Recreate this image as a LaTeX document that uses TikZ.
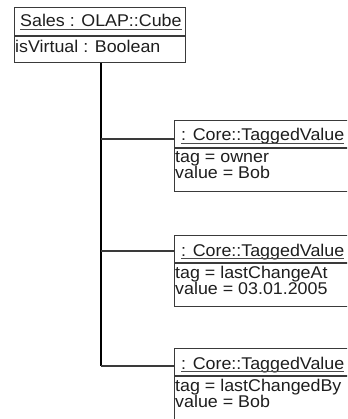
\documentclass[tikz,border=0pt]{standalone}
\usepackage{fontspec}
\setmainfont{Liberation Sans}
\definecolor{boxgray}{HTML}{3A3A3A}
\definecolor{txtc}{HTML}{1E1E1E}
\newcommand{\wide}[1]{\scalebox{1.05}[1]{#1}}
\begin{document}
\begin{tikzpicture}[x=1pt,y=-1pt,
  box/.style={draw=boxgray, line width=1.3pt, fill=white, inner sep=0pt, anchor=north west},
  sep/.style={draw=boxgray, line width=1.6pt},
  txt/.style={anchor=base west, inner sep=0pt, font=\fontsize{17}{17}\selectfont, text=txtc},
  uline/.style={draw=txtc!80, line width=1.1pt},
  trunk/.style={draw=black, line width=2.2pt},
  branch/.style={draw=boxgray, line width=1.3pt}]
\clip (0,0) rectangle (347,419);
\fill[white] (0,0) rectangle (347,419);
% Sales box
\node[box, minimum width=171pt, minimum height=55pt] (sales) at (14,7) {};
\draw[sep] (14,36) -- (185,36);
\node[txt] (salesh) at (20,27) {\wide{Sales : OLAP::Cube}};
\draw[uline] ([yshift=-2.5pt]salesh.base west) -- ([yshift=-2.5pt]salesh.base east);
\node[txt] (salesa) at (15,53) {\wide{isVirtual : Boolean}};
% junctions
\coordinate (j1) at (101,139);
\coordinate (j2) at (101,251);
\coordinate (j3) at (101,366);
% tagged value boxes
\foreach \n/\t/\tag/\val in {1/120/owner/Bob, 2/235/lastChangeAt/03.01.2005, 3/348/lastChangedBy/Bob}{
  \node[box, minimum width=190pt, minimum height=71pt] (tv\n) at (174,\t) {};
  \draw[sep] (174,\t+28) -- (364,\t+28);
  \node[txt] (tvh\n) at (181,\t+21) {\wide{: Core::TaggedValue}};
  \draw[uline] ([yshift=-2.5pt]tvh\n.base west) -- ([yshift=-2.5pt]tvh\n.base east);
  \node[txt] (tvt\n) at (175,\t+43) {\wide{tag = \tag}};
  \node[txt] (tvv\n) at (175,\t+59) {\wide{value = \val}};
}
% connectors
\draw[trunk] (sales.south -| j1) -- (j3);
\draw[branch] (j1) -- (tv1.west |- j1);
\draw[branch] (j2) -- (tv2.west |- j2);
\draw[branch] (j3) -- (tv3.west |- j3);
\end{tikzpicture}
\end{document}
